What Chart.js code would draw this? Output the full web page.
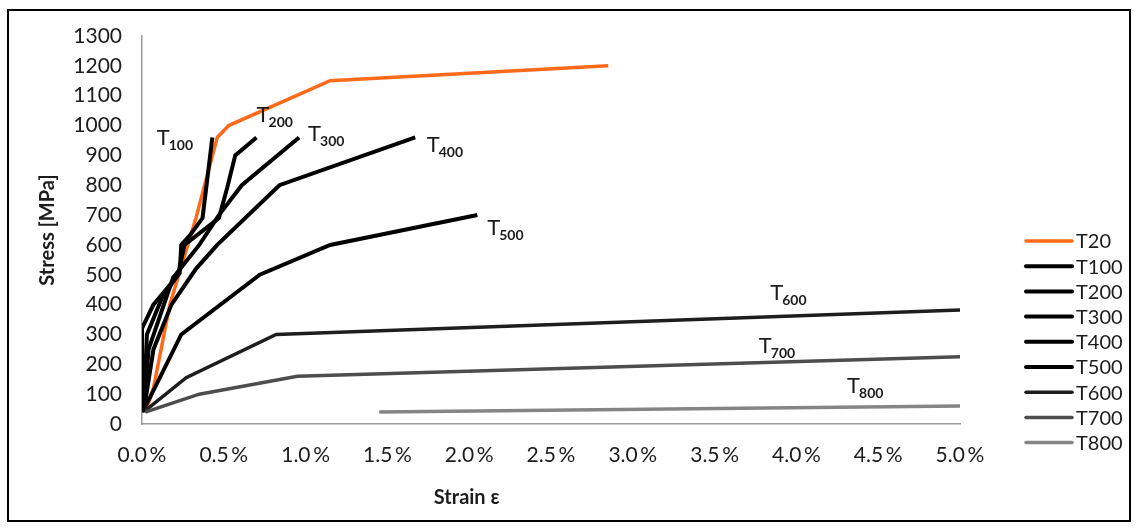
<!DOCTYPE html>
<html>
<head>
<meta charset="utf-8">
<script src="https://cdn.jsdelivr.net/npm/chart.js@4.4.1/dist/chart.umd.min.js"></script>
<style>
    body { margin: 0; background: #fff; }
    #frame {
        position: absolute; left: 7px; top: 9px;
        width: 1124px; height: 513px;
        border: 2px solid #000; box-sizing: border-box;
    }
</style>
</head>
<body>
<div id="frame"><canvas id="chartStress"></canvas></div>
<script>
// strain in %, stress in MPa
var seriesNames = ['T20', 'T100', 'T200', 'T300', 'T400', 'T500', 'T600', 'T700', 'T800'];

var t20Strain = [0.02, 0.07, 0.17, 0.33, 0.46, 0.53, 1.15, 2.85];
var t20Stress = [40, 120, 400, 690, 960, 1000, 1150, 1200];

var t100Strain = [0.01, 0.0, 0.0, 0.07, 0.23, 0.24, 0.29, 0.37, 0.39, 0.43];
var t100Stress = [40, 130, 320, 400, 505, 600, 630, 690, 780, 960];

var t200Strain = [0.01, 0.03, 0.12, 0.22, 0.26, 0.47, 0.52, 0.57, 0.70];
var t200Stress = [40, 300, 420, 500, 600, 690, 790, 900, 960];

var t300Strain = [0.01, 0.04, 0.19, 0.35, 0.47, 0.61, 0.96];
var t300Stress = [40, 250, 490, 600, 700, 800, 960];

var t400Strain = [0.01, 0.07, 0.18, 0.33, 0.46, 0.84, 1.67];
var t400Stress = [40, 250, 400, 520, 600, 800, 960];

var t500Strain = [0.0, 0.05, 0.24, 0.72, 1.15, 2.05];
var t500Stress = [40, 90, 300, 500, 600, 700];

var t600Strain = [0.02, 0.27, 0.82, 5.0];
var t600Stress = [45, 155, 300, 382];

var t700Strain = [0.02, 0.35, 0.95, 5.0];
var t700Stress = [40, 100, 160, 225];

var t800Strain = [1.45, 5.0];
var t800Stress = [40, 60];

var xTicks = [0, 0.5, 1.0, 1.5, 2.0, 2.5, 3.0, 3.5, 4.0, 4.5, 5.0];
var yTicks = [0, 100, 200, 300, 400, 500, 600, 700, 800, 900, 1000, 1100, 1200, 1300];

// curve labels: subscript text and anchor (strain %, stress MPa) of the "T"
var curveLabels = [
    { sub: '100', x: 0.09, y: 935 },
    { sub: '200', x: 0.70, y: 1013 },
    { sub: '300', x: 1.015, y: 947 },
    { sub: '400', x: 1.74, y: 910 },
    { sub: '500', x: 2.11, y: 633 },
    { sub: '600', x: 3.84, y: 415 },
    { sub: '700', x: 3.77, y: 238 },
    { sub: '800', x: 4.31, y: 104 },
];

var colors = ['#ff6a1a', '#000', '#000', '#000', '#000', '#000', '#1e1e1e', '#4d4d4d', '#858585'];
var widths = [3.5, 4, 4, 4, 4, 4, 3.5, 3.5, 3.5];

function toPoints(xs, ys) {
    var pts = [];
    for (var i = 0; i < xs.length; i++) pts.push({ x: xs[i], y: ys[i] });
    return pts;
}

var allStrain = [t20Strain, t100Strain, t200Strain, t300Strain, t400Strain, t500Strain, t600Strain, t700Strain, t800Strain];
var allStress = [t20Stress, t100Stress, t200Stress, t300Stress, t400Stress, t500Stress, t600Stress, t700Stress, t800Stress];

var datasets = seriesNames.map(function (name, i) {
    return {
        label: name,
        data: toPoints(allStrain[i], allStress[i]),
        borderColor: colors[i],
        backgroundColor: colors[i],
        borderWidth: widths[i],
        showLine: true,
        pointRadius: 0,
        tension: 0,
        order: -i,
    };
});

var FONT = 'Lato, "Open Sans", sans-serif';
var TEXT = '#1c1c1c';

var extras = {
    id: 'extras',
    afterDraw: function (chart) {
        var ctx = chart.ctx;
        var xs = chart.scales.x, ys = chart.scales.y;
        var area = chart.chartArea;
        ctx.save();
        ctx.fillStyle = TEXT;

        // curve labels with subscripts
        ctx.textAlign = 'left';
        ctx.textBaseline = 'alphabetic';
        curveLabels.forEach(function (l) {
            var px = xs.getPixelForValue(l.x), py = ys.getPixelForValue(l.y);
            ctx.font = '22px ' + FONT;
            ctx.fillText('T', px, py);
            var w = ctx.measureText('T').width;
            ctx.font = 'bold 14px ' + FONT;
            ctx.fillText(l.sub, px + w - 1, py + 5);
        });

        // x axis title
        ctx.font = 'bold 20px ' + FONT;
        ctx.textAlign = 'center';
        ctx.textBaseline = 'middle';
        ctx.fillText('Strain \u03b5', area.left + 0.397 * (area.right - area.left), area.bottom + 74);

        // legend
        ctx.font = '20px ' + FONT;
        ctx.textAlign = 'left';
        chart.data.datasets.forEach(function (ds, i) {
            var y = area.top + 205 + i * 25.2;
            ctx.strokeStyle = ds.borderColor;
            ctx.lineWidth = ds.borderWidth;
            ctx.lineCap = 'round';
            ctx.beginPath();
            ctx.moveTo(area.right + 66, y);
            ctx.lineTo(area.right + 112, y);
            ctx.stroke();
            ctx.fillText(ds.label, area.right + 116, y + 1);
        });
        ctx.restore();
    },
};

new Chart(document.getElementById('chartStress').getContext('2d'), {
    type: 'scatter',
    data: { datasets: datasets },
    plugins: [extras],
    options: {
        responsive: true,
        maintainAspectRatio: false,
        animation: false,
        layout: { padding: { left: 0, top: 25, right: 169, bottom: 36 } },
        plugins: {
            legend: { display: false },
            tooltip: { enabled: false },
        },
        scales: {
            x: {
                type: 'linear',
                min: 0,
                max: 5,
                afterBuildTicks: function (scale) {
                    scale.ticks = xTicks.map(function (v) { return { value: v }; });
                },
                afterFit: function (scale) { scale.height = 60; },
                ticks: {
                    color: TEXT,
                    font: { family: FONT, size: 21 },
                    padding: 19,
                    maxRotation: 0,
                    autoSkip: false,
                    callback: function (v) { return v.toFixed(1) + '\u2009%'; },
                },
                grid: { display: false, drawTicks: false },
                border: { color: '#9a9a9a', width: 1.5 },
            },
            y: {
                type: 'linear',
                min: 0,
                max: 1300,
                afterBuildTicks: function (scale) {
                    scale.ticks = yTicks.map(function (v) { return { value: v }; });
                },
                afterFit: function (scale) {
                    scale.width = 133;
                    scale.paddingTop = 10;
                    scale.paddingBottom = 10;
                },
                ticks: {
                    color: TEXT,
                    font: { family: FONT, size: 21 },
                    padding: 20,
                    autoSkip: false,
                    callback: function (v) { return String(v); },
                },
                title: {
                    display: true,
                    text: 'Stress [MPa]',
                    color: TEXT,
                    font: { family: FONT, size: 20, weight: 'bold' },
                    padding: { top: 27, bottom: 0 },
                },
                grid: { display: false, drawTicks: false },
                border: { color: '#9a9a9a', width: 1.5 },
            },
        },
    },
});
</script>
</body>
</html>
